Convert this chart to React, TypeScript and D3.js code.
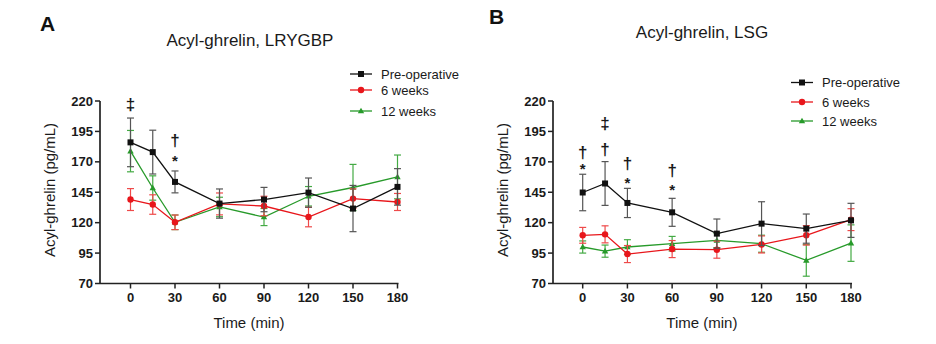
import React from "react";
import * as d3 from "d3";

const times = [0, 15, 30, 60, 90, 120, 150, 180];
const xTicks = [0, 30, 60, 90, 120, 150, 180];
const yTicks = [70, 95, 120, 145, 170, 195, 220];
const seriesNames = ["Pre-operative", "6 weeks", "12 weeks"];

// Panel A: LRYGBP
const aPreMean = [186, 178, 153.5, 135.7, 139, 144.7, 131.6, 149.4];
const aPreSem = [20, 18, 9, 12, 10, 12, 19, 15];
const a6Mean = [139, 134.9, 120.3, 135.4, 133.7, 124.6, 139.8, 137];
const a6Sem = [9, 8, 6, 9, 8, 8, 8, 7];
const a12Mean = [178.8, 148.5, 120.3, 132.9, 124.6, 141.7, 148.9, 157.6];
const a12Sem = [17, 10, 6, 8, 7, 8, 19, 18];

// Panel B: LSG
const bPreMean = [144.8, 152.2, 136.2, 128.5, 111, 119.2, 115.1, 121.9];
const bPreSem = [15, 18, 12, 11.5, 12, 18, 12, 14];
const b6Mean = [109.6, 110.4, 94.2, 98.3, 97.8, 102.1, 109.6, 122.5];
const b6Sem = [6.5, 7, 7, 7, 7, 7, 8, 9];
const b12Mean = [100, 96.6, 100, 102.7, 105.4, 102.7, 89, 103.2];
const b12Sem = [5, 5, 6, 6, 6, 7, 13, 15];

// significance annotations: [time, symbol, level]
const aMarks: [number, string, number][] = [
  [0, "‡", 217.5],
  [30, "†", 188],
  [30, "*", 173.5],
];
const bMarks: [number, string, number][] = [
  [0, "†", 178.2],
  [0, "*", 166.2],
  [15, "‡", 202.1],
  [15, "†", 180.4],
  [30, "†", 168.7],
  [30, "*", 155.3],
  [60, "†", 163.1],
  [60, "*", 149.2],
];

const COLORS = ["#111111", "#e8161b", "#279a2a"];
const ERR_COLORS = ["#555555", "#ee4a4a", "#44aa44"];
const FONT = "'Liberation Sans', Arial, Helvetica, sans-serif";

function Marker({ kind, x, y, color }: { kind: number; x: number; y: number; color: string }) {
  if (kind === 0) return <rect x={x - 3} y={y - 3} width={6} height={6} fill={color} />;
  if (kind === 1) return <circle cx={x} cy={y} r={3.2} fill={color} />;
  return <path d={`M${x},${y - 3.3}L${x + 3.2},${y + 2.3}L${x - 3.2},${y + 2.3}Z`} fill={color} />;
}

type PanelProps = {
  letter: string;
  title: string;
  axisX: number;
  x0: number;
  x1: number;
  titleX: number;
  titleY: number;
  letterX: number;
  letterY: number;
  ylabelX: number;
  legendX: number;
  legendYs: number[];
  means: number[][];
  sems: number[][];
  marks: [number, string, number][];
};

function Panel(p: PanelProps) {
  const y = d3.scaleLinear().domain([70, 220]).range([283.5, 101]);
  const x = d3.scaleLinear().domain([0, 180]).range([p.x0, p.x1]);
  const axisY = y(70);
  const line = d3
    .line<number>()
    .x((_, i) => x(times[i]))
    .y((d) => y(d));
  return (
    <g fontFamily={FONT}>
      <text x={p.letterX} y={p.letterY} fontSize={21} fontWeight="bold" fill="#111">
        {p.letter}
      </text>
      <text x={p.titleX} y={p.titleY} fontSize={17} textAnchor="middle" fill="#1a1a1a">
        {p.title}
      </text>
      {/* y axis */}
      <line x1={p.axisX} x2={p.axisX} y1={y(220)} y2={axisY} stroke="#222" strokeWidth={1.7} />
      {yTicks.map((t) => (
        <g key={t}>
          <line x1={p.axisX - 5} x2={p.axisX} y1={y(t)} y2={y(t)} stroke="#222" strokeWidth={1.5} />
          <text x={p.axisX - 7} y={y(t) + 4.5} fontSize={13} fontWeight="bold" textAnchor="end" fill="#1a1a1a">
            {t}
          </text>
        </g>
      ))}
      <text
        transform={`translate(${p.ylabelX},${190}) rotate(-90)`}
        fontSize={15}
        textAnchor="middle"
        fill="#1a1a1a"
      >
        Acyl-ghrelin  (pg/mL)
      </text>
      {/* x axis */}
      <line x1={p.axisX} x2={p.x1 + 1} y1={axisY} y2={axisY} stroke="#222" strokeWidth={1.7} />
      {xTicks.map((t) => (
        <g key={t}>
          <line x1={x(t)} x2={x(t)} y1={axisY} y2={axisY + 5} stroke="#222" strokeWidth={1.5} />
          <text x={x(t)} y={axisY + 18} fontSize={13} fontWeight="bold" textAnchor="middle" fill="#1a1a1a">
            {t}
          </text>
        </g>
      ))}
      <text x={(p.x0 + p.x1) / 2 - 15} y={axisY + 44} fontSize={15} textAnchor="middle" fill="#1a1a1a">
        Time (min)
      </text>
      {[2, 1, 0].map((si) => (
        <g key={si}>
          {p.means[si].map((m, i) => {
            const cx = x(times[i]);
            const top = y(m + p.sems[si][i]);
            const bot = y(m - p.sems[si][i]);
            return (
              <g key={i} stroke={ERR_COLORS[si]} strokeWidth={1.2}>
                <line x1={cx} x2={cx} y1={top} y2={bot} />
                <line x1={cx - 3.5} x2={cx + 3.5} y1={top} y2={top} />
                <line x1={cx - 3.5} x2={cx + 3.5} y1={bot} y2={bot} />
              </g>
            );
          })}
          <path d={line(p.means[si]) || ""} fill="none" stroke={COLORS[si]} strokeWidth={1.3} />
          {p.means[si].map((m, i) => (
            <Marker key={i} kind={si} x={x(times[i])} y={y(m)} color={COLORS[si]} />
          ))}
        </g>
      ))}
      {p.marks.map(([t, s, v], i) => (
        <text
          key={i}
          x={x(t)}
          y={y(v) + (s === "*" ? 8 : 6)}
          fontSize={s === "*" ? 15 : 17}
          fontWeight="bold"
          textAnchor="middle"
          fill="#1a1a1a"
        >
          {s}
        </text>
      ))}
      {/* legend */}
      {seriesNames.map((n, si) => (
        <g key={n}>
          <line
            x1={p.legendX}
            x2={p.legendX + 22}
            y1={p.legendYs[si]}
            y2={p.legendYs[si]}
            stroke={COLORS[si]}
            strokeWidth={1.3}
          />
          <Marker kind={si} x={p.legendX + 11} y={p.legendYs[si]} color={COLORS[si]} />
          <text x={p.legendX + 31} y={p.legendYs[si] + 4.5} fontSize={13} fill="#1a1a1a">
            {n}
          </text>
        </g>
      ))}
    </g>
  );
}

export default function App() {
  return (
    <svg
      width={936}
      height={344}
      style={{ position: "absolute", left: 0, top: 0, background: "#fff" }}
    >
      <rect width={936} height={344} fill="#fff" />
      <Panel
        letter="A"
        title="Acyl-ghrelin, LRYGBP"
        axisX={100}
        x0={130.5}
        x1={397.5}
        titleX={250}
        titleY={46}
        letterX={40}
        letterY={31}
        ylabelX={55}
        legendX={350}
        legendYs={[74, 90, 111]}
        means={[aPreMean, a6Mean, a12Mean]}
        sems={[aPreSem, a6Sem, a12Sem]}
        marks={aMarks}
      />
      <Panel
        letter="B"
        title="Acyl-ghrelin, LSG"
        axisX={553}
        x0={582.7}
        x1={851}
        titleX={702}
        titleY={38}
        letterX={489}
        letterY={24}
        ylabelX={508}
        legendX={791}
        legendYs={[82.5, 102, 121]}
        means={[bPreMean, b6Mean, b12Mean]}
        sems={[bPreSem, b6Sem, b12Sem]}
        marks={bMarks}
      />
    </svg>
  );
}
